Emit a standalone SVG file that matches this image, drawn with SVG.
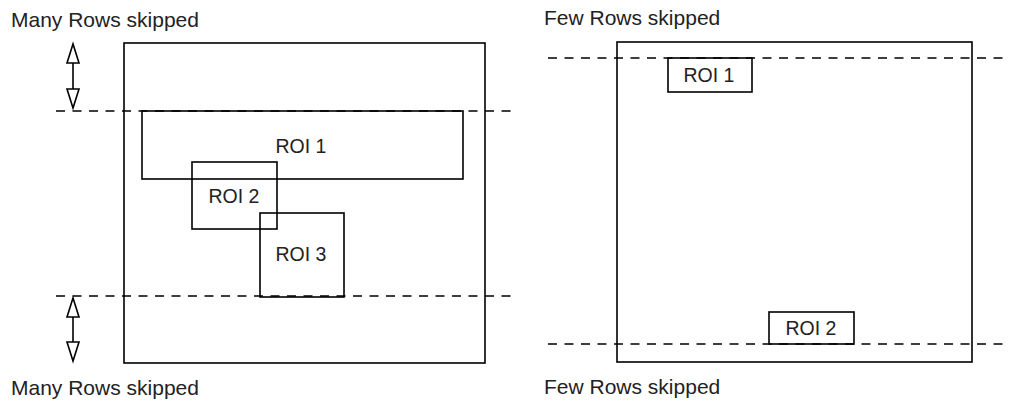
<svg xmlns="http://www.w3.org/2000/svg" width="1011" height="402" viewBox="0 0 1011 402">
<style>
.box{fill:none;stroke:#000;stroke-width:1.6}
.dash{fill:none;stroke:#000;stroke-width:1.6;stroke-dasharray:9,7.5}
.t{font-family:"Liberation Sans",Arial,sans-serif;font-size:19.5px;fill:#222}
.cap{font-size:21px}
.c{text-anchor:middle}
.ah{fill:#fff;stroke:#000;stroke-width:1.6;stroke-linejoin:miter}
</style>
<g id="labels">
<text class="t cap" x="11" y="27">Many Rows skipped</text>
<text class="t cap" x="11" y="395">Many Rows skipped</text>
<text class="t cap" x="544" y="25">Few Rows skipped</text>
<text class="t cap" x="544" y="394">Few Rows skipped</text>
</g>
<g id="frame-left"><rect class="box" x="124" y="43" width="361" height="320"/></g>
<g id="frame-right"><rect class="box" x="617" y="42" width="355" height="320"/></g>
<g id="left-roi1"><rect class="box" x="142" y="111" width="321" height="68"/><text class="t c" x="301" y="153">ROI 1</text></g>
<g id="left-roi2"><rect class="box" x="192" y="162" width="85" height="67"/><text class="t c" x="234" y="203">ROI 2</text></g>
<g id="left-roi3"><rect class="box" x="260" y="213" width="84" height="84"/><text class="t c" x="301" y="261">ROI 3</text></g>
<g id="right-roi1"><rect class="box" x="668" y="58" width="84" height="34"/><text class="t c" x="709" y="82">ROI 1</text></g>
<g id="right-roi2"><rect class="box" x="769" y="312" width="85" height="32"/><text class="t c" x="811" y="335">ROI 2</text></g>
<g id="connectors">
<line class="dash" x1="56" y1="111" x2="513" y2="111"/>
<line class="dash" x1="56" y1="296" x2="513" y2="296"/>
<line class="dash" x1="548" y1="58" x2="1006" y2="58"/>
<line class="dash" x1="548" y1="344" x2="1006" y2="344"/>
<line class="box" x1="73" y1="62" x2="73" y2="90"/>
<polygon class="ah" points="73,44 67,63 79,63"/>
<polygon class="ah" points="73,108 67,89 79,89"/>
<line class="box" x1="73" y1="316" x2="73" y2="343"/>
<polygon class="ah" points="73,298 67,317 79,317"/>
<polygon class="ah" points="73,361 67,342 79,342"/>
</g>
</svg>
